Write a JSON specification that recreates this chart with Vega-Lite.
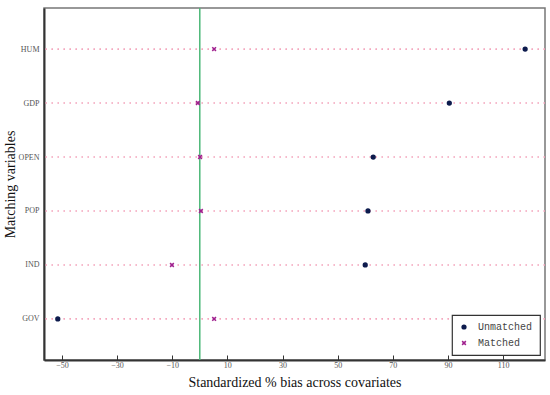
{
  "$schema": "https://vega.github.io/schema/vega-lite/v6.json",
  "autosize": "none",
  "width": 501,
  "height": 352,
  "padding": {"left": 44, "top": 8, "right": 5, "bottom": 35},
  "background": "white",
  "config": {
    "view": {"stroke": "#777", "strokeWidth": 1.5},
    "axis": {"labelFont": "Liberation Serif", "titleFont": "Liberation Serif", "titleFontWeight": "normal", "labelColor": "#555555", "titleColor": "#111111"},
    "legend": {
      "orient": "bottom-right", "offset": 5, "title": null,
      "strokeColor": "#333333", "strokeWidth": 1.2, "fillColor": "white",
      "padding": 7, "labelFont": "Liberation Mono", "labelFontSize": 10, "labelColor": "#444444",
      "symbolSize": 14, "rowPadding": 6, "labelOffset": 9
    }
  },
  "data": {
    "values": [
      {"var": "HUM", "Group": "Unmatched", "bias": 118.0},
      {"var": "HUM", "Group": "Matched", "bias": 5.2},
      {"var": "GDP", "Group": "Unmatched", "bias": 90.5},
      {"var": "GDP", "Group": "Matched", "bias": -0.7},
      {"var": "OPEN", "Group": "Unmatched", "bias": 62.9},
      {"var": "OPEN", "Group": "Matched", "bias": 0.1},
      {"var": "POP", "Group": "Unmatched", "bias": 61.0},
      {"var": "POP", "Group": "Matched", "bias": 0.4},
      {"var": "IND", "Group": "Unmatched", "bias": 60.0},
      {"var": "IND", "Group": "Matched", "bias": -10.1},
      {"var": "GOV", "Group": "Unmatched", "bias": -51.5},
      {"var": "GOV", "Group": "Matched", "bias": 5.2}
    ]
  },
  "encoding": {
    "y": {
      "field": "var", "type": "nominal",
      "sort": ["HUM", "GDP", "OPEN", "POP", "IND", "GOV"],
      "scale": {"type": "point", "padding": 0.76},
      "axis": {
        "title": "Matching variables",
        "titleFontSize": 14, "titlePadding": 1,
        "labelFontSize": 8, "labelPadding": 5,
        "ticks": false,
        "domainColor": "#333333", "domainWidth": 2,
        "grid": false
      }
    }
  },
  "layer": [
    {
      "mark": {"type": "rule", "color": "#f4a3bb", "strokeWidth": 1.2, "strokeDash": [1.5, 4.5]},
      "encoding": {}
    },
    {
      "data": {"values": [{"zero": 0}]},
      "mark": {"type": "rule", "color": "#4cb878", "strokeWidth": 1.5},
      "encoding": {"x": {"field": "zero", "type": "quantitative"}, "y": null}
    },
    {
      "mark": {"type": "point", "filled": true, "strokeWidth": 1.5, "size": 14, "opacity": 1},
      "encoding": {
        "x": {
          "field": "bias", "type": "quantitative",
          "scale": {"domain": [-56.5, 125.2], "nice": false, "zero": false},
          "axis": {
            "values": [-50, -30, -10, 10, 30, 50, 70, 90, 110],
            "title": "Standardized % bias across covariates",
            "titleFontSize": 14, "titlePadding": 6,
            "labelFontSize": 8, "labelPadding": 6,
            "tickSize": -5, "tickColor": "#333333", "tickWidth": 1,
            "domainColor": "#333333", "domainWidth": 2,
            "grid": false
          }
        },
        "shape": {
          "field": "Group", "type": "nominal",
          "scale": {"domain": ["Unmatched", "Matched"], "range": ["circle", "M-1,-1L1,1M1,-1L-1,1"]}
        },
        "fill": {
          "field": "Group", "type": "nominal",
          "scale": {"domain": ["Unmatched", "Matched"], "range": ["#0d1b4d", "#a0208e"]}
        },
        "stroke": {
          "field": "Group", "type": "nominal",
          "scale": {"domain": ["Unmatched", "Matched"], "range": ["#0d1b4d", "#a0208e"]}
        }
      }
    }
  ]
}
